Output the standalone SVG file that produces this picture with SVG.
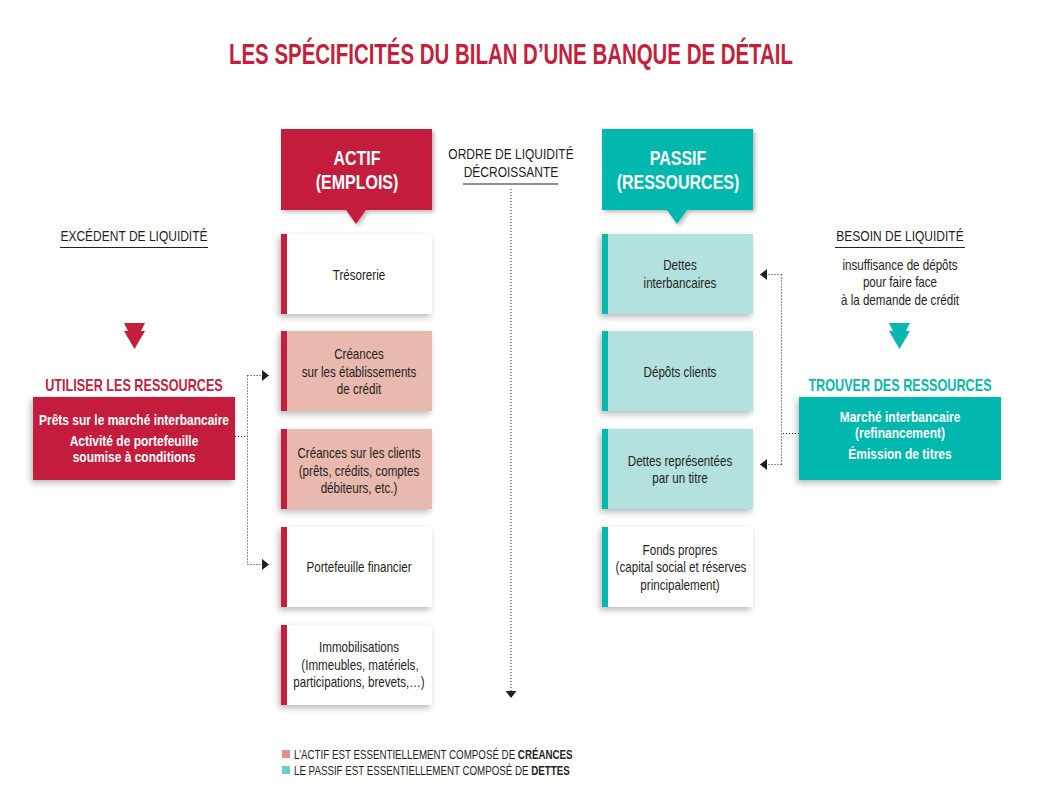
<svg xmlns="http://www.w3.org/2000/svg" width="1044" height="812" viewBox="0 0 1044 812">
<defs>
<style>
text{font-family:"Liberation Sans",Arial,sans-serif;}
.t{font-size:14.5px;fill:#231f20;text-anchor:middle;}
.h{font-size:15px;fill:#231f20;text-anchor:middle;}
.hd{font-size:20px;font-weight:bold;fill:#fff;text-anchor:middle;}
.wb{font-size:15px;font-weight:bold;fill:#fff;text-anchor:middle;}
.lg{font-size:12.2px;fill:#231f20;}
.dot{fill:none;stroke:#231f20;stroke-width:1;stroke-dasharray:1 2;}
.red{fill:#c41f3d;}
.teal{fill:#06b8ae;}
.pink{fill:#e9b8ae;}
.lt{fill:#b3e1dd;}
.wh{fill:#fff;}
</style>
<filter id="sh" x="-20%" y="-20%" width="140%" height="150%">
<feDropShadow dx="-2" dy="3" stdDeviation="3" flood-color="#000" flood-opacity="0.28"/>
</filter>
<filter id="sh2" x="-20%" y="-20%" width="140%" height="150%">
<feDropShadow dx="2" dy="2" stdDeviation="2" flood-color="#000" flood-opacity="0.3"/>
</filter>
<marker id="arr" markerWidth="8" markerHeight="12" refX="7" refY="5.5" orient="auto" markerUnits="userSpaceOnUse">
<path d="M0,0 L7,5.5 L0,11 Z" fill="#231f20"/>
</marker>
</defs>
<rect width="1044" height="812" fill="#fff"/>

<text x="511" y="64" font-size="29" font-weight="bold" fill="#c41f3d" text-anchor="middle" textLength="564" lengthAdjust="spacingAndGlyphs">LES SPÉCIFICITÉS DU BILAN D’UNE BANQUE DE DÉTAIL</text>

<g id="actif-header">
<path class="red" d="M281,129 H432 V210 H366 L356,224 L346,210 H281 Z" filter="url(#sh2)"/>
<g transform="scale(0.8,1)"><text class="hd" x="446.25" y="165">ACTIF</text>
<text class="hd" x="446.25" y="189">(EMPLOIS)</text></g>
</g>
<g id="passif-header">
<path class="teal" d="M602,129 H753 V210 H687 L677,224 L667,210 H602 Z" filter="url(#sh2)"/>
<g transform="scale(0.8,1)"><text class="hd" x="847.5" y="165">PASSIF</text>
<text class="hd" x="847.5" y="189">(RESSOURCES)</text></g>
</g>

<g id="ordre">
<g transform="scale(0.8,1)"><text class="h" x="638.75" y="159">ORDRE DE LIQUIDITÉ</text>
<text class="h" x="638.75" y="177.5">DÉCROISSANTE</text></g>
<line x1="463" y1="184" x2="558" y2="184" stroke="#231f20" stroke-width="1"/>
</g>

<g id="a1"><rect class="wh" x="281" y="234" width="151" height="80" filter="url(#sh)"/><rect class="red" x="281" y="234" width="6" height="80"/>
<g transform="scale(0.8,1)"><text class="t" x="448.75" y="280">Trésorerie</text></g></g>
<g id="a2"><rect class="pink" x="281" y="331" width="151" height="80" filter="url(#sh)"/><rect class="red" x="281" y="331" width="6" height="80"/>
<g transform="scale(0.8,1)"><text class="t" x="448.75" y="359.5">Créances</text><text class="t" x="448.75" y="377">sur les établissements</text><text class="t" x="448.75" y="394.5">de crédit</text></g></g>
<g id="a3"><rect class="pink" x="281" y="429" width="151" height="80" filter="url(#sh)"/><rect class="red" x="281" y="429" width="6" height="80"/>
<g transform="scale(0.8,1)"><text class="t" x="448.75" y="458.5">Créances sur les clients</text><text class="t" x="448.75" y="476">(prêts, crédits, comptes</text><text class="t" x="448.75" y="493.5">débiteurs, etc.)</text></g></g>
<g id="a4"><rect class="wh" x="281" y="527" width="151" height="80" filter="url(#sh)"/><rect class="red" x="281" y="527" width="6" height="80"/>
<g transform="scale(0.8,1)"><text class="t" x="448.75" y="572.5">Portefeuille financier</text></g></g>
<g id="a5"><rect class="wh" x="281" y="625" width="151" height="80" filter="url(#sh)"/><rect class="red" x="281" y="625" width="6" height="80"/>
<g transform="scale(0.8,1)"><text class="t" x="448.75" y="652.5">Immobilisations</text><text class="t" x="450" y="670.5">(Immeubles, matériels,</text><text class="t" x="448.75" y="687.5">participations, brevets,…)</text></g></g>

<g id="p1"><rect class="lt" x="602" y="234" width="151" height="80" filter="url(#sh)"/><rect class="teal" x="602" y="234" width="6" height="80"/>
<g transform="scale(0.8,1)"><text class="t" x="850" y="270.5">Dettes</text><text class="t" x="850" y="288">interbancaires</text></g></g>
<g id="p2"><rect class="lt" x="602" y="331" width="151" height="80" filter="url(#sh)"/><rect class="teal" x="602" y="331" width="6" height="80"/>
<g transform="scale(0.8,1)"><text class="t" x="850" y="377">Dépôts clients</text></g></g>
<g id="p3"><rect class="lt" x="602" y="429" width="151" height="80" filter="url(#sh)"/><rect class="teal" x="602" y="429" width="6" height="80"/>
<g transform="scale(0.8,1)"><text class="t" x="850" y="466.5">Dettes représentées</text><text class="t" x="850" y="483.5">par un titre</text></g></g>
<g id="p4"><rect class="wh" x="602" y="527" width="151" height="80" filter="url(#sh)"/><rect class="teal" x="602" y="527" width="6" height="80"/>
<g transform="scale(0.8,1)"><text class="t" x="850" y="555">Fonds propres</text><text class="t" x="851.25" y="572.5">(capital social et réserves</text><text class="t" x="850" y="590">principalement)</text></g></g>

<g id="excedent">
<g transform="scale(0.8,1)"><text class="h" x="167.5" y="241">EXCÉDENT DE LIQUIDITÉ</text></g>
<line x1="60" y1="247.5" x2="208" y2="247.5" stroke="#231f20" stroke-width="1"/>
<polygon class="red" points="124,323 145,323 141,331 145,331 134.5,349 124,331 128,331"/>
<g transform="scale(0.8,1)"><text x="167.5" y="391" font-size="15.8" font-weight="bold" fill="#c41f3d" text-anchor="middle">UTILISER LES RESSOURCES</text></g>
</g>
<g id="utiliser">
<rect class="red" x="33" y="397" width="202" height="83" filter="url(#sh)"/>
<g transform="scale(0.8,1)"><text class="wb" x="167.5" y="425">Prêts sur le marché interbancaire</text>
<text class="wb" x="167.5" y="446.5">Activité de portefeuille</text>
<text class="wb" x="167.5" y="462">soumise à conditions</text></g>
</g>

<g id="besoin">
<g transform="scale(0.8,1)"><text class="h" x="1125" y="241">BESOIN DE LIQUIDITÉ</text></g>
<line x1="835" y1="247.5" x2="965" y2="247.5" stroke="#231f20" stroke-width="1"/>
<g transform="scale(0.8,1)"><text class="t" x="1125" y="270">insuffisance de dépôts</text>
<text class="t" x="1125" y="287.5">pour faire face</text>
<text class="t" x="1125" y="305">à la demande de crédit</text></g>
<polygon class="teal" points="889,323 910,323 906,331 910,331 899.5,349 889,331 893,331"/>
<g transform="scale(0.8,1)"><text x="1125" y="391" font-size="15.8" font-weight="bold" fill="#06b8ae" text-anchor="middle">TROUVER DES RESSOURCES</text></g>
</g>
<g id="trouver">
<rect class="teal" x="799" y="397" width="202" height="83" filter="url(#sh)"/>
<g transform="scale(0.8,1)"><text class="wb" x="1125" y="422">Marché interbancaire</text>
<text class="wb" x="1125" y="438.5">(refinancement)</text>
<text class="wb" x="1125" y="459.5">Émission de titres</text></g>
</g>

<g id="connectors">
<path class="dot" d="M511,189 V698" marker-end="url(#arr)"/>
<path class="dot" d="M235,436.5 H247.5"/>
<path class="dot" d="M247.5,375.5 V564.5"/>
<path class="dot" d="M247.5,375.5 H269" marker-end="url(#arr)"/>
<path class="dot" d="M247.5,564.5 H269" marker-end="url(#arr)"/>
<path class="dot" d="M799,433.5 H781.5"/>
<path class="dot" d="M781.5,274.5 V464.5"/>
<path class="dot" d="M781.5,274.5 H760" marker-end="url(#arr)"/>
<path class="dot" d="M781.5,464.5 H760" marker-end="url(#arr)"/>
</g>

<g id="legend">
<rect x="282" y="750" width="8" height="8" fill="#e3908a"/>
<rect x="282" y="766" width="8" height="8" fill="#72cdc8"/>
<g transform="scale(0.8,1)"><text class="lg" x="367.5" y="759">L’ACTIF EST ESSENTIELLEMENT COMPOSÉ DE <tspan font-weight="bold">CRÉANCES</tspan></text>
<text class="lg" x="367.5" y="775">LE PASSIF EST ESSENTIELLEMENT COMPOSÉ DE <tspan font-weight="bold">DETTES</tspan></text></g>
</g>
</svg>
